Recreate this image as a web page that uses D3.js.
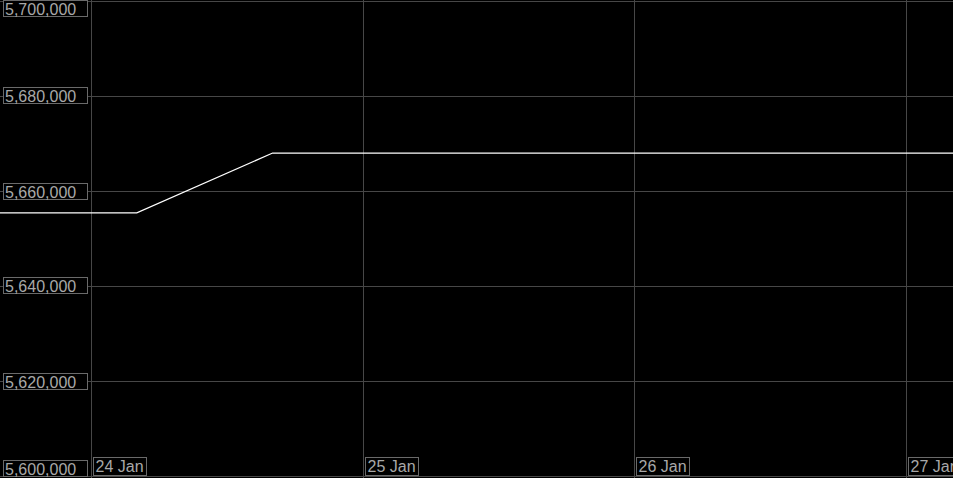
<!DOCTYPE html>
<html>
<head>
<meta charset="utf-8">
<script src="https://cdn.jsdelivr.net/npm/d3@7"></script>
<style>
  html, body { margin: 0; padding: 0; background: #000; overflow: hidden; }
  svg { display: block; }
</style>
</head>
<body>
<svg id="chart" width="953" height="478"></svg>
<script>
// ---- data ----
const times = ["2020-01-23T12:00:00Z", "2020-01-24T04:00:00Z", "2020-01-24T16:00:00Z", "2020-01-27T12:00:00Z"];
const values = [5655500, 5655500, 5668100, 5668100];
const yTicks = [5600000, 5620000, 5640000, 5660000, 5680000, 5700000];
const xTicks = ["2020-01-24T00:00:00Z", "2020-01-25T00:00:00Z", "2020-01-26T00:00:00Z", "2020-01-27T00:00:00Z"];

const W = 953, H = 478;
const svg = d3.select("#chart");
svg.append("rect").attr("width", W).attr("height", H).attr("fill", "#000");

const data = times.map((t, i) => ({ t: new Date(t), v: values[i] }));
const xTickDates = xTicks.map(d => new Date(d));

// axis adds 0.5 offset for crisp lines
const x = d3.scaleUtc().domain([xTickDates[0], xTickDates[3]]).range([91, 906]);
const y = d3.scaleLinear().domain([5600000, 5700000]).range([476, 1]);

const gridColor = "#474747";
const boxColor = "#6a6a6a";
const textColor = "#a8a8a8";
const font = "Liberation Sans, Arial, sans-serif";

// horizontal grid via axis
const yGrid = svg.append("g")
  .call(d3.axisRight(y).tickValues(yTicks).tickSize(W).tickFormat(""));
yGrid.select(".domain").remove();
yGrid.selectAll("line").attr("stroke", gridColor).attr("shape-rendering", "crispEdges");

// vertical grid via axis
const xGrid = svg.append("g")
  .call(d3.axisBottom(x).tickValues(xTickDates).tickSize(H).tickFormat(""));
xGrid.select(".domain").remove();
xGrid.selectAll("line").attr("stroke", gridColor).attr("shape-rendering", "crispEdges");

// line
const line = d3.line().x(d => x(d.t) + 0.5).y(d => y(d.v) + 0.5);
svg.append("path").datum(data)
  .attr("d", line)
  .attr("fill", "none")
  .attr("stroke", "#ffffff")
  .attr("stroke-width", 1.2);

// y labels with boxes
const fmt = d3.format(",");
const yl = svg.append("g").selectAll("g").data(yTicks).join("g");
yl.each(function(d) {
  const g = d3.select(this);
  const cy = y(d) + 0.5;
  let top = cy - 8.5;
  top = Math.max(0.5, Math.min(top, 476.5 - 16));
  top = Math.round(top - 0.5) + 0.5;
  g.append("rect").attr("x", 3.5).attr("y", top).attr("width", 84).attr("height", 16)
    .attr("fill", "#000").attr("stroke", boxColor).attr("stroke-width", 1);
  g.append("text").attr("x", 5).attr("y", top + 14)
    .attr("fill", textColor).attr("font-family", font).attr("font-size", 16)
    .text(fmt(d));
});

// x labels with boxes
const xf = d3.utcFormat("%d Jan");
const xl = svg.append("g").selectAll("g").data(xTickDates).join("g");
xl.each(function(d) {
  const g = d3.select(this);
  const px = Math.round(x(d)) + 2.5;
  g.append("rect").attr("x", px).attr("y", 457.5).attr("width", 53).attr("height", 18)
    .attr("fill", "#000").attr("stroke", boxColor).attr("stroke-width", 1);
  g.append("text").attr("x", px + 2).attr("y", 472)
    .attr("fill", textColor).attr("font-family", font).attr("font-size", 16)
    .text(xf(d));
});
</script>
</body>
</html>
